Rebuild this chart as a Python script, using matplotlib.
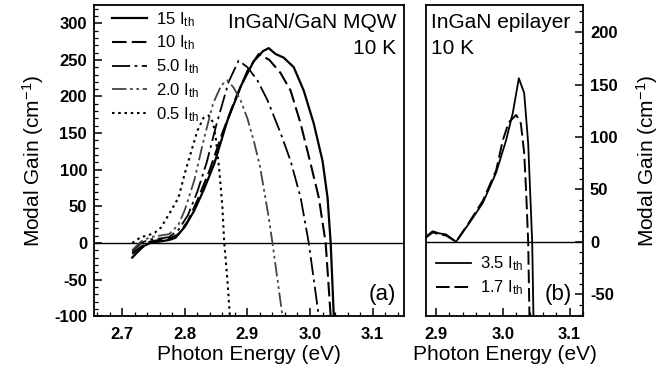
import matplotlib
matplotlib.use("Agg")
import matplotlib.pyplot as plt
from matplotlib.ticker import MultipleLocator

plt.rcParams["font.family"] = ["Liberation Sans", "DejaVu Sans"]
plt.rcParams["mathtext.fontset"] = "custom"
plt.rcParams["mathtext.rm"] = "Liberation Sans"
plt.rcParams["mathtext.it"] = "Liberation Sans:italic"
plt.rcParams["mathtext.bf"] = "Liberation Sans:bold"
plt.rcParams["axes.unicode_minus"] = False

# (a) InGaN/GaN MQW, 10 K
mqw_labels = ["15 I$_{\\rm th}$", "10 I$_{\\rm th}$", "5.0 I$_{\\rm th}$",
              "2.0 I$_{\\rm th}$", "0.5 I$_{\\rm th}$"]

x_15 = [2.716, 2.725, 2.735, 2.745, 2.76, 2.775, 2.785, 2.80, 2.815, 2.83, 2.847,
        2.868, 2.89, 2.91, 2.925, 2.934, 2.945, 2.958, 2.974, 2.990, 3.006, 3.020,
        3.028, 3.033, 3.038]
y_15 = [-20, -12, -4, 0, 2, 4, 7, 22, 44, 72, 108, 167, 215, 248, 262, 266, 258,
        253, 240, 208, 163, 112, 62, 0, -100]

x_10 = [2.716, 2.73, 2.745, 2.76, 2.775, 2.79, 2.805, 2.82, 2.84, 2.86, 2.88, 2.90,
        2.918, 2.935, 2.953, 2.969, 2.985, 3.001, 3.014, 3.025, 3.033]
y_10 = [-15, -5, 2, 4, 6, 12, 30, 58, 100, 150, 195, 235, 258, 250, 232, 208, 163,
        108, 62, 0, -100]

x_5 = [2.716, 2.73, 2.745, 2.76, 2.775, 2.79, 2.805, 2.82, 2.835, 2.85, 2.87, 2.886,
       2.90, 2.916, 2.932, 2.953, 2.969, 2.985, 2.998, 3.014]
y_5 = [-12, 0, 5, 6, 8, 18, 38, 70, 110, 160, 220, 249, 240, 222, 195, 150, 112, 62,
       0, -100]

x_2 = [2.716, 2.73, 2.745, 2.76, 2.775, 2.79, 2.80, 2.815, 2.83, 2.845, 2.858, 2.868,
       2.878, 2.889, 2.90, 2.91, 2.92, 2.926, 2.934, 2.94, 2.948, 2.956]
y_2 = [-10, 2, 8, 10, 12, 25, 45, 85, 140, 190, 215, 222, 212, 195, 170, 140, 105, 75,
       35, 0, -50, -100]

x_05 = [2.716, 2.73, 2.74, 2.752, 2.762, 2.778, 2.79, 2.80, 2.812, 2.82, 2.83, 2.838,
        2.845, 2.85, 2.855, 2.86, 2.863, 2.868, 2.872]
y_05 = [0, 8, 10, 14, 21, 44, 62, 95, 130, 153, 171, 174, 165, 140, 100, 50, 0, -50,
        -100]

# (b) InGaN epilayer, 10 K
epi_labels = ["3.5 I$_{\\rm th}$", "1.7 I$_{\\rm th}$"]

x_35 = [2.885, 2.895, 2.905, 2.915, 2.93, 2.95, 2.97, 2.99, 3.005, 3.015, 3.024,
        3.032, 3.038, 3.041, 3.044, 3.046]
y_35 = [5, 10, 8, 7, 0, 18, 37, 66, 97, 123, 156, 142, 94, 47, 0, -75]

x_17 = [2.885, 2.895, 2.905, 2.915, 2.93, 2.95, 2.97, 2.99, 3.0, 3.009, 3.02, 3.027,
        3.032, 3.035, 3.038, 3.04]
y_17 = [4, 9, 7, 6, 0, 19, 39, 68, 97, 114, 121, 113, 85, 47, 0, -75]


def style_axis(ax):
    for s in ax.spines.values():
        s.set_linewidth(1.3)
    ax.tick_params(which="both", direction="in", labelsize=12)
    ax.tick_params(which="major", length=6, width=1.1)
    ax.tick_params(which="minor", length=3, width=0.9)
    ax.tick_params(axis="x", which="major", pad=8)
    ax.tick_params(axis="y", which="major", pad=5)
    for lbl in ax.get_xticklabels() + ax.get_yticklabels():
        lbl.set_fontweight("bold")
    ax.axhline(0, color="black", lw=1.0, zorder=1)


fig = plt.figure(figsize=(6.65, 3.8), dpi=100)
ax1 = fig.add_axes([0.1414, 0.168, 0.466, 0.819])
ax2 = fig.add_axes([0.6406, 0.168, 0.236, 0.819])

styles = [
    dict(ls="-", lw=1.6, color="black"),
    dict(ls=(0, (7, 2.5)), lw=1.5, color="black"),
    dict(ls=(0, (10, 2.5, 1.5, 2.5)), lw=1.3, color="black"),
    dict(ls=(0, (8, 2, 1.5, 2, 1.5, 2)), lw=1.3, color="#444444"),
    dict(ls=(0, (1.2, 1.8)), lw=1.5, color="black"),
]
series = [(x_15, y_15), (x_10, y_10), (x_5, y_5), (x_2, y_2), (x_05, y_05)]
for (xs, ys), st, lab in zip(series, styles, mqw_labels):
    ax1.plot(xs, ys, label=lab, **st)

ax1.set_xlim(2.655, 3.15)
ax1.set_ylim(-100, 325)
ax1.xaxis.set_major_locator(MultipleLocator(0.1))
ax1.xaxis.set_minor_locator(MultipleLocator(0.02))
ax1.yaxis.set_major_locator(MultipleLocator(50))
ax1.yaxis.set_minor_locator(MultipleLocator(10))
ax1.set_xticks([2.7, 2.8, 2.9, 3.0, 3.1])
ax1.set_xticklabels(["2.7", "2.8", "2.9", "3.0", "3.1"])
style_axis(ax1)
ax1.tick_params(which="both", top=False, right=False)
ax1.set_xlabel("Photon Energy (eV)", fontsize=15, labelpad=2)
ax1.set_ylabel("Modal Gain (cm$^{-1}$)", fontsize=15, labelpad=6)
ax1.legend(loc="upper left", frameon=False, fontsize=12, handlelength=2.1,
           handletextpad=0.55, labelspacing=0.3, borderaxespad=0,
           bbox_to_anchor=(0.035, 1.005))
ax1.text(0.975, 0.975, "InGaN/GaN MQW", transform=ax1.transAxes, ha="right",
         va="top", fontsize=15)
ax1.text(0.975, 0.89, "10 K", transform=ax1.transAxes, ha="right", va="top",
         fontsize=15)
ax1.text(0.975, 0.035, "(a)", transform=ax1.transAxes, ha="right", va="bottom",
         fontsize=16)

ax2.plot(x_35, y_35, ls="-", lw=1.3, color="black", label=epi_labels[0])
ax2.plot(x_17, y_17, ls=(0, (7, 2.5)), lw=1.4, color="black", label=epi_labels[1])
ax2.set_xlim(2.885, 3.12)
ax2.set_ylim(-71, 226)
ax2.xaxis.set_major_locator(MultipleLocator(0.1))
ax2.xaxis.set_minor_locator(MultipleLocator(0.02))
ax2.set_xticks([2.9, 3.0, 3.1])
ax2.set_xticklabels(["2.9", "3.0", "3.1"])
ax2.yaxis.set_major_locator(MultipleLocator(50))
ax2.yaxis.set_minor_locator(MultipleLocator(10))
ax2.yaxis.tick_right()
ax2.yaxis.set_label_position("right")
style_axis(ax2)
ax2.tick_params(which="both", top=False, left=False, right=True)
ax2.set_xlabel("Photon Energy (eV)", fontsize=15, labelpad=2)
ax2.set_ylabel("Modal Gain (cm$^{-1}$)", fontsize=15, rotation=90, labelpad=12)
ax2.legend(loc="lower left", frameon=False, fontsize=12, handlelength=2.1,
           handletextpad=0.55, labelspacing=0.3, borderaxespad=0,
           bbox_to_anchor=(0.02, 0.04))
ax2.text(0.035, 0.975, "InGaN epilayer", transform=ax2.transAxes, ha="left",
         va="top", fontsize=15)
ax2.text(0.035, 0.89, "10 K", transform=ax2.transAxes, ha="left", va="top",
         fontsize=15)
ax2.text(0.93, 0.035, "(b)", transform=ax2.transAxes, ha="right", va="bottom",
         fontsize=16)

fig.savefig("out.png", dpi=100)
